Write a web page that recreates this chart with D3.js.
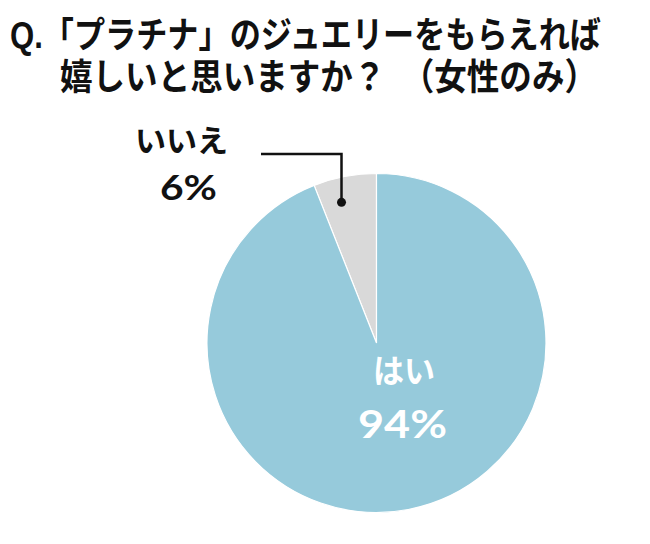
<!DOCTYPE html>
<html><head><meta charset="utf-8">
<script src="https://cdn.jsdelivr.net/npm/d3@7"></script>
<style>
html,body{margin:0;padding:0;background:#fff;}
svg text{font-family:"Noto Sans CJK JP","Noto Sans",sans-serif;font-weight:bold;}
svg text.title{font-family:"Liberation Sans","Noto Sans CJK JP",sans-serif;}
svg text.num{font-family:Lato,"Noto Sans",sans-serif;font-weight:bold;}
</style></head>
<body>
<svg id="c" width="650" height="544"></svg>
<script>
const titleLines = ["Q.「プラチナ」のジュエリーをもらえれば", "嬉しいと思いますか？　（女性のみ）"];
const categories = ["いいえ", "はい"];
const values = [6, 94];
const valueLabels = ["6%", "94%"];
const colors = ["#d9d9d9", "#96cadb"];

const svg = d3.select("#c");
const cx = 376.5, cy = 343, R = 169.5;

// title (one text, two lines, stretched vertically like the reference font)
const sy = 1.19;
const title = svg.append("text").attr("class", "title").attr("transform", `scale(1,${sy})`)
  .attr("font-size", 31).attr("fill", "#111");
title.append("tspan").attr("x", 10).attr("y", 48.5 / sy)
  .attr("textLength", 591).attr("lengthAdjust", "spacingAndGlyphs").text(titleLines[0]);
title.append("tspan").attr("x", 60).attr("y", 90.5 / sy)
  .attr("textLength", 537).attr("lengthAdjust", "spacingAndGlyphs").text(titleLines[1]);

const data = categories.map((c, i) => ({cat: c, v: values[i], label: valueLabels[i], color: colors[i]}));
const total = d3.sum(values);
const start = -2 * Math.PI * values[0] / total;
const pie = d3.pie().value(d => d.v).sort(null)
  .startAngle(start).endAngle(start + 2 * Math.PI);
const arcs = pie(data);
const arc = d3.arc().innerRadius(0).outerRadius(R);

const g = svg.append("g").attr("transform", `translate(${cx},${cy})`);
g.selectAll("path").data(arcs).join("path")
  .attr("d", arc).attr("fill", d => d.data.color)
  .attr("stroke", "#fff").attr("stroke-width", 1.2);

// "はい" label inside
const yes = arcs[1];
svg.append("text").attr("x", 404).attr("y", 383).attr("text-anchor", "middle")
  .attr("font-size", 33).attr("textLength", 62).attr("lengthAdjust", "spacingAndGlyphs")
  .attr("fill", "#fff").text(yes.data.cat);
svg.append("text").attr("class", "num").attr("x", 402.5).attr("y", 438).attr("text-anchor", "middle")
  .attr("font-size", 39).attr("textLength", 89).attr("lengthAdjust", "spacingAndGlyphs")
  .attr("fill", "#fff").text(yes.data.label);

// "いいえ" with leader
const no = arcs[0];
const ang = no.startAngle + 0.353 * (no.endAngle - no.startAngle);
const dotR = R * 0.855;
const dx = cx + dotR * Math.sin(ang), dy = cy - dotR * Math.cos(ang);
svg.append("polyline")
  .attr("points", `${dx},${dy} ${dx},154 261,154`)
  .attr("fill", "none").attr("stroke", "#111").attr("stroke-width", 2.5);
svg.append("circle").attr("cx", dx).attr("cy", dy).attr("r", 4.5).attr("fill", "#111");
svg.append("text").attr("x", 181.5).attr("y", 152).attr("text-anchor", "middle")
  .attr("font-size", 31).attr("textLength", 93).attr("lengthAdjust", "spacingAndGlyphs")
  .attr("fill", "#111").text(no.data.cat);
svg.append("text").attr("class", "num").attr("x", 188.5).attr("y", 200).attr("text-anchor", "middle")
  .attr("font-size", 35).attr("textLength", 57).attr("lengthAdjust", "spacingAndGlyphs")
  .attr("fill", "#111").text(no.data.label);
</script>
</body></html>
